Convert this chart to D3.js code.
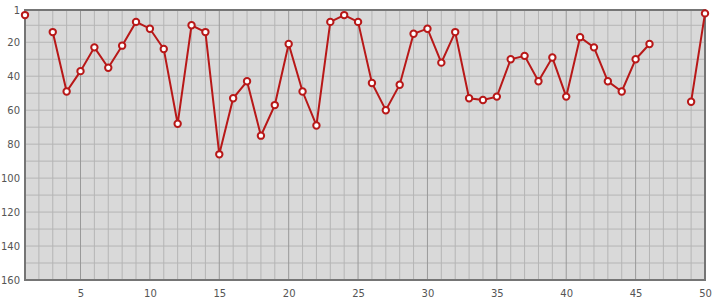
<!DOCTYPE html>
<html>
<head>
<meta charset="utf-8">
<script src="https://cdn.jsdelivr.net/npm/d3@7"></script>
<style>
  body { margin: 0; background: #fff; }
  .tick text { font-family: "DejaVu Sans", Verdana, sans-serif; font-size: 10px; fill: #555; }
</style>
</head>
<body>
<div id="chart"></div>
<script>
var svgWidth = 715;
var svgHeight = 300;

var margin = { top: 10, right: 10, bottom: 20, left: 25 };

var width = svgWidth - margin.left - margin.right;
var height = svgHeight - margin.top - margin.bottom;

// positions 1..50, null = no value
var positions = d3.range(1, 51);
var ranks = [4, null, 14, 49, 37, 23, 35, 22, 8, 12,
             24, 68, 10, 14, 86, 53, 43, 75, 57, 21,
             49, 69, 8, 4, 8, 44, 60, 45, 15, 12,
             32, 14, 53, 54, 52, 30, 28, 43, 29, 52,
             17, 23, 43, 49, 30, 21, null, null, 55, 3];

var yTickValues = [1, 20, 40, 60, 80, 100, 120, 140, 160];
var xTickValues = [5, 10, 15, 20, 25, 30, 35, 40, 45, 50];

var data = positions.map(function(p, i) { return { x: p, y: ranks[i] }; });

var svg = d3.select("#chart").append("svg")
  .attr("width", svgWidth)
  .attr("height", svgHeight);

var chartGroup = svg.append("g")
  .attr("transform", `translate(${margin.left}, ${margin.top})`);

var xScale = d3.scaleLinear().domain([1, 50]).range([0, width]);
var yScale = d3.scaleLinear().domain([1, 160]).range([0, height]);

chartGroup.append("rect")
  .attr("width", width)
  .attr("height", height)
  .attr("fill", "#d9d9d9");

// minor grid
chartGroup.append("g").selectAll("line")
  .data(d3.range(2, 50).filter(d => d % 5 !== 0))
  .enter().append("line")
  .attr("x1", d => xScale(d)).attr("x2", d => xScale(d))
  .attr("y1", 0).attr("y2", height)
  .attr("stroke", "#b5b5b5").attr("stroke-width", 1);

chartGroup.append("g").selectAll("line")
  .data(d3.range(10, 160, 10))
  .enter().append("line")
  .attr("x1", 0).attr("x2", width)
  .attr("y1", d => yScale(d)).attr("y2", d => yScale(d))
  .attr("stroke", "#b5b5b5").attr("stroke-width", 1);

// major vertical grid
chartGroup.append("g").selectAll("line")
  .data(xTickValues.filter(d => d < 50))
  .enter().append("line")
  .attr("x1", d => xScale(d)).attr("x2", d => xScale(d))
  .attr("y1", 0).attr("y2", height)
  .attr("stroke", "#999").attr("stroke-width", 1);

// frame
chartGroup.append("rect")
  .attr("width", width)
  .attr("height", height)
  .attr("fill", "none")
  .attr("stroke", "#757575")
  .attr("stroke-width", 2);

var xAxis = chartGroup.append("g")
  .attr("transform", `translate(0, ${height})`)
  .call(d3.axisBottom(xScale).tickValues(xTickValues).tickSize(0).tickPadding(10));
xAxis.select(".domain").remove();

var yAxis = chartGroup.append("g")
  .call(d3.axisLeft(yScale).tickValues(yTickValues).tickSize(0).tickPadding(5));
yAxis.select(".domain").remove();

var line = d3.line()
  .defined(d => d.y !== null)
  .x(d => xScale(d.x))
  .y(d => yScale(d.y));

chartGroup.append("path")
  .datum(data)
  .attr("fill", "none")
  .attr("stroke", "#b81818")
  .attr("stroke-width", 2)
  .attr("d", line);

chartGroup.selectAll("circle")
  .data(data.filter(d => d.y !== null))
  .enter()
  .append("circle")
  .attr("cx", d => xScale(d.x))
  .attr("cy", d => yScale(d.y))
  .attr("r", 3.2)
  .attr("fill", "#fff")
  .attr("stroke", "#b81818")
  .attr("stroke-width", 2);
</script>
</body>
</html>
